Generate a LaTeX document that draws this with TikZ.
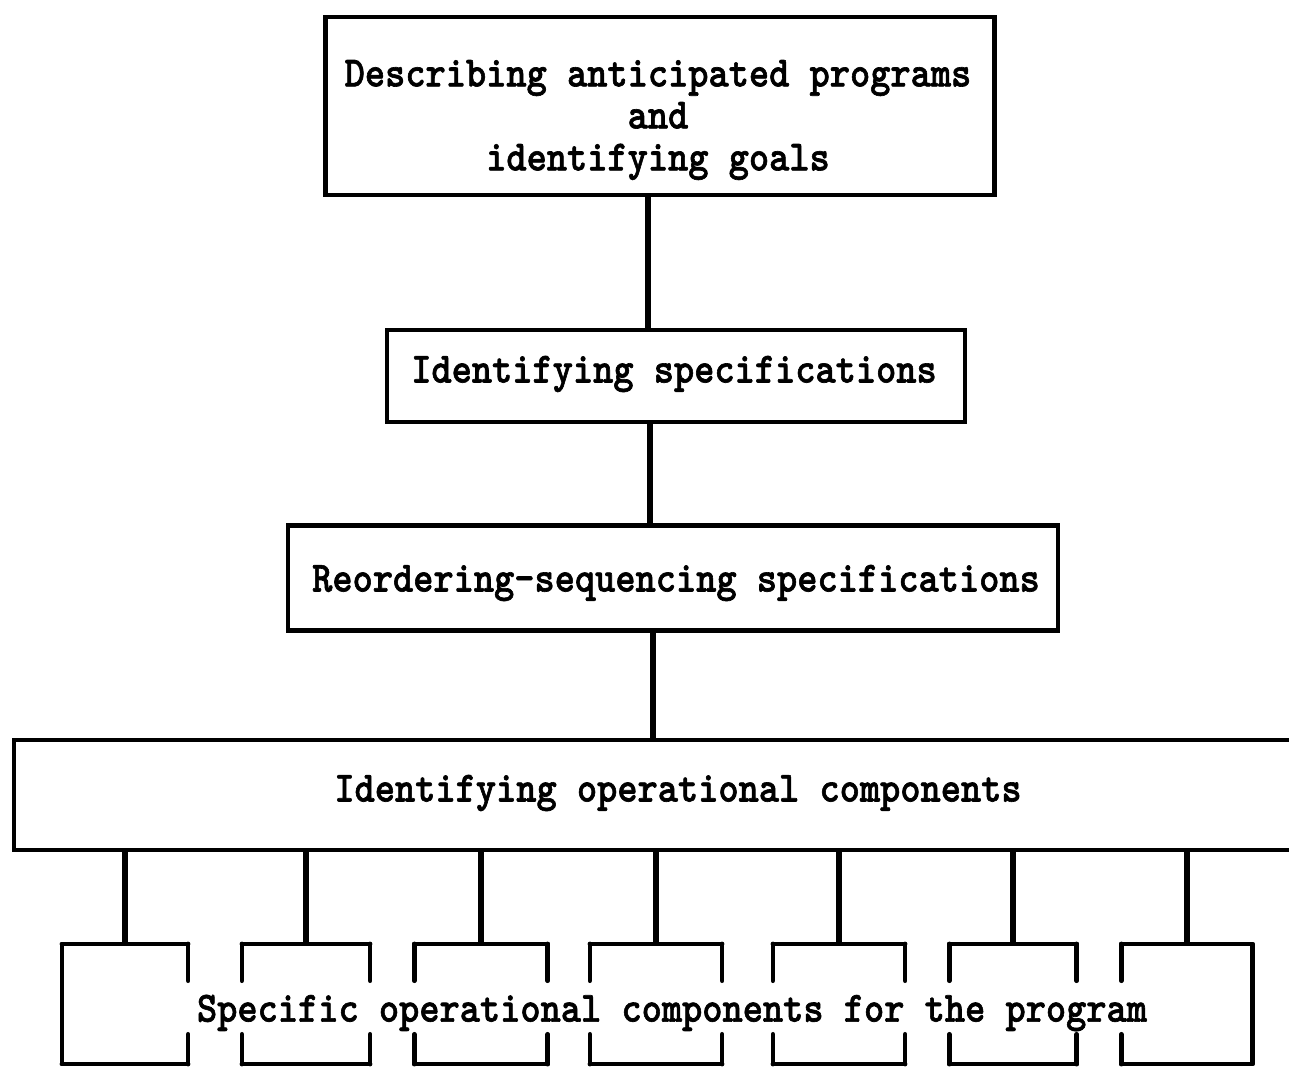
\documentclass[tikz,border=0pt]{standalone}
\usepackage{fontspec}
\newfontfamily\typew{lmmonolt10-bold.otf}[FakeBold=1.5]
\begin{document}
\begin{tikzpicture}[x=1pt,y=-1pt,
  boxline/.style={line width=4.5pt},
  conn/.style={line width=6.5pt},
  lbl/.style={font=\typew\fontsize{38.5}{41}\selectfont, align=center, inner sep=0pt},
  framebox/.style={draw, boxline, rectangle, inner sep=0pt},
  smallbox/.style={rectangle, inner sep=0pt, minimum width=128pt, minimum height=120pt}
]
\newcommand{\tall}[1]{\scalebox{1}[1.12]{#1}}
\useasboundingbox (0,0) rectangle (1289,1072);
\clip (0,0) rectangle (1289,1072);
\fill[white] (0,0) rectangle (1289,1072);

% main boxes
\node[framebox, minimum width=669pt, minimum height=178pt] (desc) at (660,106) {};
\node[lbl] (desctext) at (658,120) {\tall{Describing anticipated programs}\\[1pt]\tall{and}\\[1pt]\tall{identifying goals}};

\node[framebox, minimum width=578pt, minimum height=92pt] (spec) at (676,376) {};
\node[lbl] (spectext) at (674,374) {\tall{Identifying specifications}};
\node[framebox, minimum width=770pt, minimum height=105pt] (reord) at (673,578) {};
\node[lbl] (reordtext) at (676,583) {\tall{Reordering-sequencing specifications}};
\node[framebox, minimum width=1300pt, minimum height=110pt] (ops) at (664,795) {};
\node[lbl] (opstext) at (678,793) {\tall{Identifying operational components}};

% connector x positions
\coordinate (c1) at (648,0);
\coordinate (c2) at (650,0);
\coordinate (c3) at (653,0);
\draw[conn] (desc.south -| c1) -- (spec.north -| c1);
\draw[conn] (spec.south -| c2) -- (reord.north -| c2);
\draw[conn] (reord.south -| c3) -- (ops.north -| c3);

% bottom boxes
\foreach \i/\x/\w in {1/125/126, 2/306/128, 3/481/133, 4/656/132, 5/839/132, 6/1013/127, 7/1187/131}{
  \node[smallbox, minimum width=\w pt] (b\i) at (\x,1004) {};
  \draw[conn] (b\i.north) -- (b\i.north |- ops.south);
}
% box outlines with gaps where the text passes
\foreach \i in {1,...,7}{
  \draw[boxline, line cap=round] (b\i.north west) -- (b\i.north east);
  \draw[boxline, line cap=round] (b\i.south west) -- (b\i.south east);
}
% left sides
\draw[boxline] (b1.north west) -- (b1.south west);
\foreach \i in {2,...,7}{
  \draw[boxline, line cap=round] (b\i.north west) -- ++(0,37);
  \draw[boxline, line cap=round] (b\i.south west) -- ++(0,-30);
}
% right sides
\draw[boxline] (b7.north east) -- (b7.south east);
\foreach \i in {1,...,6}{
  \draw[boxline, line cap=round] (b\i.north east) -- ++(0,37);
  \draw[boxline, line cap=round] (b\i.south east) -- ++(0,-30);
}
\node[lbl] (specific) at (672,1013) {\tall{Specific operational components for the program}};
\end{tikzpicture}
\end{document}
